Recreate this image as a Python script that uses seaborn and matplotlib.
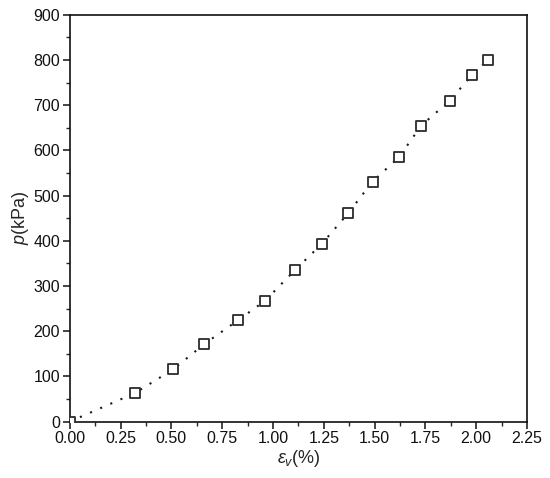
import matplotlib
matplotlib.use("Agg")
import matplotlib.pyplot as plt
import numpy as np
import pandas as pd
import seaborn as sns

# volumetric strain (%) and pressure (kPa)
strain = [0.00, 0.32, 0.51, 0.66, 0.83, 0.96, 1.11, 1.24, 1.37, 1.49,
          1.62, 1.73, 1.87, 1.98, 2.06]
pressure = [0, 63, 116, 171, 225, 267, 336, 393, 461, 531,
            585, 655, 710, 767, 801]

x_ticks = [0.00, 0.25, 0.50, 0.75, 1.00, 1.25, 1.50, 1.75, 2.00, 2.25]
y_ticks = [0, 100, 200, 300, 400, 500, 600, 700, 800, 900]

df = pd.DataFrame({"strain": strain, "pressure": pressure})

sns.set_style("ticks")
plt.rcParams["font.family"] = ["Liberation Sans", "DejaVu Sans"]
plt.rcParams["mathtext.fontset"] = "custom"
plt.rcParams["mathtext.rm"] = "Liberation Sans"
plt.rcParams["mathtext.it"] = "Liberation Sans:italic"

fig = plt.figure(figsize=(5.5, 4.78), dpi=100)
ax = fig.add_axes([0.127, 0.118, 0.831, 0.851])

sns.lineplot(data=df, x="strain", y="pressure", sort=False, ax=ax,
             color="#1a1a1a", lw=1.5, linestyle=(0, (1, 4.3)), zorder=2)
sns.scatterplot(data=df, x="strain", y="pressure", ax=ax, marker="s",
                s=58, facecolor="white", edgecolor="#2b2b2b", linewidth=1.3,
                zorder=3)

ax.set_xlim(0, 2.25)
ax.set_ylim(0, 900)
ax.set_xticks(x_ticks)
ax.set_xticklabels([f"{t:.2f}" for t in x_ticks])
ax.set_yticks(y_ticks)
ax.set_xticks(np.array(x_ticks[:-1]) + 0.125, minor=True)
ax.set_yticks(np.array(y_ticks[:-1]) + 50, minor=True)

ax.set_xlabel(r"$\varepsilon_v$(%)", fontsize=13, labelpad=1)
ax.set_ylabel(r"$p$(kPa)", fontsize=13, labelpad=2)

for side in ["top", "right", "left", "bottom"]:
    ax.spines[side].set_visible(True)
    ax.spines[side].set_linewidth(1.2)
    ax.spines[side].set_color("#111111")

ax.tick_params(axis="both", which="major", direction="out", length=5,
               width=1.1, labelsize=11.5, colors="#111111", pad=2,
               top=False, right=False)
ax.tick_params(axis="both", which="minor", direction="out", length=3,
               width=1.0, top=False, right=False)

fig.savefig("out.png", dpi=100)
